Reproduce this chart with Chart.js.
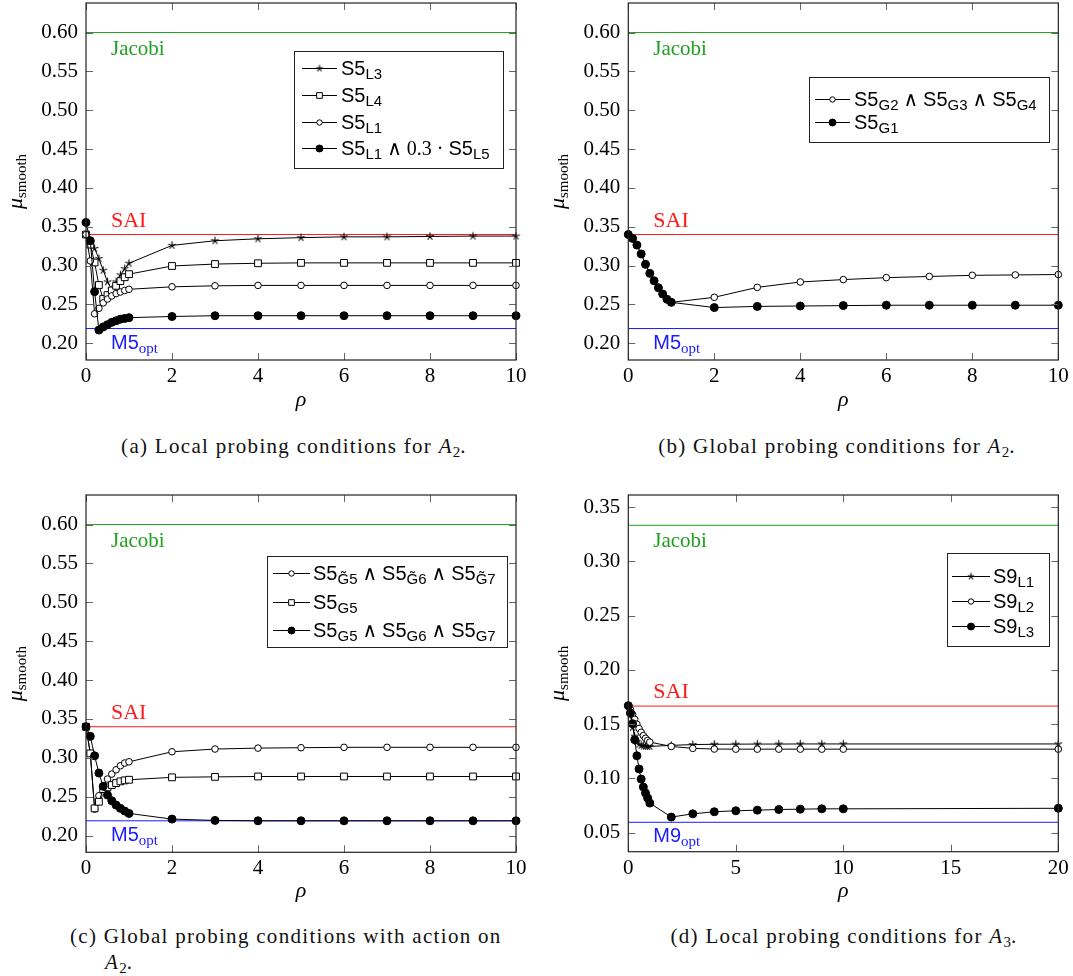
<!DOCTYPE html>
<html lang="en">
<head>
<meta charset="UTF-8">
<title>Smoothing factors of probing conditions</title>
<script src="https://cdn.jsdelivr.net/npm/chart.js@4"></script>
<style>
  html, body { margin: 0; padding: 0; background: #fff; }
  body { position: relative; width: 1073px; height: 976px; overflow: hidden; }
  .panel { position: absolute; }
  .cap {
    position: absolute; font-family: "Liberation Serif", serif; font-size: 21px;
    letter-spacing: 1.3px; color: #111; white-space: nowrap; line-height: 26px;
  }
  .cap sub { font-size: 15px; vertical-align: -4px; line-height: 0; letter-spacing: 0; }
</style>
</head>
<body>

<div class="panel" style="left:0;top:0"><canvas id="pa" width="536" height="420"></canvas></div>
<div class="panel" style="left:540px;top:0"><canvas id="pb" width="533" height="420"></canvas></div>
<div class="panel" style="left:0;top:480px"><canvas id="pc" width="536" height="430"></canvas></div>
<div class="panel" style="left:540px;top:480px"><canvas id="pd" width="533" height="430"></canvas></div>

<div class="cap" style="left:94px;top:433px;width:400px;text-align:center">(a) Local probing conditions for <i>A</i><sub>2</sub>.</div>
<div class="cap" style="left:637px;top:433px;width:400px;text-align:center">(b) Global probing conditions for <i>A</i><sub>2</sub>.</div>
<div class="cap" style="left:70px;top:923px">(c) Global probing conditions with action on<br><span style="padding-left:35px"><i>A</i><sub>2</sub>.</span></div>
<div class="cap" style="left:644px;top:923px;width:400px;text-align:center">(d) Local probing conditions for <i>A</i><sub>3</sub>.</div>

<script>
// sample points in rho
const rho10 = [0, 0.1, 0.2, 0.3, 0.4, 0.5, 0.6, 0.7, 0.8, 0.9, 1, 2, 3, 4, 5, 6, 7, 8, 9, 10];
const rho20 = [0, 0.1, 0.2, 0.3, 0.4, 0.5, 0.6, 0.7, 0.8, 0.9, 1, 2, 3, 4, 5, 6, 7, 8, 9, 10, 20];

// (a) local probing, A2
const aL3   = [0.340, 0.331, 0.322, 0.309, 0.294, 0.279, 0.269, 0.279, 0.288, 0.296, 0.303, 0.326, 0.332, 0.3345, 0.336, 0.337, 0.337, 0.3375, 0.338, 0.338];
const aL4   = [0.340, 0.327, 0.304, 0.275, 0.257, 0.262, 0.268, 0.274, 0.280, 0.285, 0.289, 0.2995, 0.302, 0.303, 0.3035, 0.3035, 0.3035, 0.3035, 0.3035, 0.3035];
const aL1   = [0.340, 0.306, 0.238, 0.245, 0.252, 0.257, 0.261, 0.264, 0.266, 0.268, 0.2695, 0.2727, 0.274, 0.2745, 0.2745, 0.2745, 0.2745, 0.2745, 0.2745, 0.2745];
const aL1L5 = [0.3555, 0.332, 0.2665, 0.217, 0.221, 0.224, 0.227, 0.229, 0.231, 0.232, 0.233, 0.2345, 0.2355, 0.2355, 0.2355, 0.2355, 0.2355, 0.2355, 0.2355, 0.2355];

// (b) global probing, A2
const bG234 = [0.340, 0.335, 0.3264, 0.315, 0.3016, 0.290, 0.2805, 0.2715, 0.2634, 0.2566, 0.2527, 0.2592, 0.272, 0.2789, 0.282, 0.2845, 0.286, 0.2875, 0.288, 0.2885];
const bG1   = [0.340, 0.335, 0.3264, 0.315, 0.3016, 0.290, 0.2805, 0.2715, 0.2634, 0.2566, 0.2527, 0.246, 0.2475, 0.248, 0.2485, 0.249, 0.249, 0.249, 0.249, 0.249];

// (c) global probing with action, A2
const cTG   = [0.340, 0.3057, 0.2341, 0.2512, 0.264, 0.2727, 0.2791, 0.2846, 0.2898, 0.2933, 0.2949, 0.3078, 0.3113, 0.3125, 0.313, 0.3135, 0.3135, 0.3135, 0.3135, 0.3135];
const cG5   = [0.340, 0.3057, 0.235, 0.2435, 0.2598, 0.262, 0.265, 0.2675, 0.2697, 0.271, 0.2718, 0.2749, 0.2755, 0.276, 0.276, 0.276, 0.276, 0.276, 0.276, 0.276];
const cG567 = [0.340, 0.3276, 0.3026, 0.2804, 0.2633, 0.2521, 0.2448, 0.2392, 0.235, 0.2315, 0.2285, 0.2212, 0.2195, 0.219, 0.219, 0.219, 0.219, 0.219, 0.219, 0.219];

// (d) local probing, A3
const dL1 = [0.1671, 0.158, 0.147, 0.139, 0.134, 0.1315, 0.1305, 0.130, 0.1297, 0.1295, 0.1295, 0.1305, 0.1312, 0.1315, 0.1316, 0.1317, 0.1317, 0.1318, 0.1318, 0.1318, 0.1318];
const dL2 = [0.1671, 0.1635, 0.159, 0.1545, 0.150, 0.146, 0.1425, 0.1395, 0.137, 0.135, 0.1335, 0.1295, 0.1277, 0.1271, 0.127, 0.127, 0.127, 0.127, 0.127, 0.127, 0.127];
const dL3 = [0.1671, 0.1603, 0.1505, 0.1357, 0.1209, 0.1087, 0.0994, 0.0921, 0.0865, 0.0819, 0.0773, 0.0644, 0.0674, 0.0693, 0.0702, 0.0708, 0.0714, 0.0717, 0.072, 0.072, 0.0725];

// reference smoothing factors: Jacobi, SAI, optimal stencil
const refA2 = [0.6, 0.34, 0.219];
const refA3 = [0.3333, 0.1667, 0.0596];

const SERIF = '"Liberation Serif", "DejaVu Serif", serif';
const SANS = '"Liberation Sans", "DejaVu Sans", sans-serif';
const GREEN = '#1f9f1f', RED = '#ff1a1a', BLUE = '#1a1aff';

// five-armed star mark
function starMark(r) {
  const c = document.createElement('canvas');
  const s = Math.ceil(2 * r + 3);
  c.width = c.height = s;
  const g = c.getContext('2d');
  g.strokeStyle = '#000';
  g.lineWidth = 1.1;
  g.beginPath();
  for (let k = 0; k < 5; k++) {
    const t = -Math.PI / 2 + k * 2 * Math.PI / 5;
    g.moveTo(s / 2, s / 2);
    g.lineTo(s / 2 + r * Math.cos(t), s / 2 + r * Math.sin(t));
  }
  g.stroke();
  return c;
}

const MK = {
  star:   { pointStyle: starMark(4), radius: 4, fill: '#000' },
  square: { pointStyle: 'rect', radius: 4.8, fill: '#fff' },
  ring:   { pointStyle: 'circle', radius: 3.3, fill: '#fff' },
  dot:    { pointStyle: 'circle', radius: 4, fill: '#000' }
};
const MKL = {
  star:   { pointStyle: starMark(3.4), radius: 3.4, fill: '#000' },
  square: { pointStyle: 'rect', radius: 4, fill: '#fff' },
  ring:   { pointStyle: 'circle', radius: 2.7, fill: '#fff' },
  dot:    { pointStyle: 'circle', radius: 3.5, fill: '#000' }
};

// rich text pieces
const sf = t => ({ t, f: '20px ' + SANS });
const sb = t => ({ t, f: '15px ' + SANS, dy: 4 });
const mf = t => ({ t, f: '20px ' + SERIF });
const S = (n, sub) => [sf(n), sb(sub)];
const AND = mf(' \u2227 ');

function drawRich(ctx, x, y, parts) {
  for (const p of parts) {
    ctx.font = p.f;
    ctx.fillStyle = p.c || '#000';
    ctx.fillText(p.t, x, y + (p.dy || 0));
    x += ctx.measureText(p.t).width;
  }
  return x;
}
function richWidth(ctx, parts) {
  let w = 0;
  for (const p of parts) { ctx.font = p.f; w += ctx.measureText(p.t).width; }
  return w;
}

const deco = {
  id: 'deco',
  afterDraw(chart, args, o) {
    const ctx = chart.ctx, a = chart.chartArea;
    const xs = chart.scales.x, ys = chart.scales.y;
    ctx.save();
    ctx.textBaseline = 'alphabetic';
    ctx.textAlign = 'left';

    // inward tick marks on all four sides
    ctx.strokeStyle = '#666';
    ctx.lineWidth = 1;
    ctx.beginPath();
    xs.ticks.forEach(t => {
      const px = Math.round(xs.getPixelForValue(t.value)) + 0.5;
      ctx.moveTo(px, a.bottom); ctx.lineTo(px, a.bottom - 7);
      ctx.moveTo(px, a.top); ctx.lineTo(px, a.top + 7);
    });
    ys.ticks.forEach(t => {
      const py = Math.round(ys.getPixelForValue(t.value)) + 0.5;
      ctx.moveTo(a.left, py); ctx.lineTo(a.left + 7, py);
      ctx.moveTo(a.right, py); ctx.lineTo(a.right - 7, py);
    });
    ctx.stroke();

    // frame
    ctx.strokeStyle = '#222';
    ctx.lineWidth = 1.2;
    ctx.strokeRect(a.left, a.top, a.right - a.left, a.bottom - a.top);

    // names of the reference lines
    const [jac, sai, opt] = o.refs;
    const lx = a.left + 25;
    drawRich(ctx, lx, ys.getPixelForValue(jac) + 22, [{ t: 'Jacobi', f: '21px ' + SERIF, c: GREEN }]);
    drawRich(ctx, lx, ys.getPixelForValue(sai) - 8, [{ t: 'SAI', f: '22px ' + SERIF, c: RED }]);
    drawRich(ctx, lx, ys.getPixelForValue(opt) + 20, [
      { t: o.optName, f: '20px ' + SANS, c: BLUE },
      { t: 'opt', f: '15px ' + SERIF, c: BLUE, dy: 4 }
    ]);

    // legend
    const L = o.legend;
    ctx.fillStyle = '#fff';
    ctx.fillRect(L.box[0], L.box[1], L.box[2] - L.box[0], L.box[3] - L.box[1]);
    ctx.strokeStyle = '#222';
    ctx.lineWidth = 1;
    ctx.strokeRect(L.box[0] + 0.5, L.box[1] + 0.5, L.box[2] - L.box[0], L.box[3] - L.box[1]);
    L.rows.forEach((ry, i) => {
      const e = o.entries[i];
      ctx.strokeStyle = '#000';
      ctx.lineWidth = 1;
      ctx.beginPath();
      ctx.moveTo(L.line[0], ry + 0.5);
      ctx.lineTo(L.line[1], ry + 0.5);
      ctx.stroke();
      const m = MKL[e.mk];
      ctx.fillStyle = m.fill;
      ctx.strokeStyle = '#000';
      Chart.helpers.drawPoint(ctx, { pointStyle: m.pointStyle, radius: m.radius, borderWidth: 1, rotation: 0 },
        (L.line[0] + L.line[1]) / 2, ry + 0.5);
      drawRich(ctx, L.text, ry + 7, e.parts);
    });

    // axis titles
    ctx.fillStyle = '#000';
    ctx.font = 'italic 22px ' + SERIF;
    ctx.textAlign = 'center';
    ctx.fillText('\u03c1', (a.left + a.right) / 2, o.rhoY);
    ctx.textAlign = 'left';
    const mu = [{ t: '\u03bc', f: 'italic 22px ' + SERIF }, { t: 'smooth', f: '15px ' + SERIF, dy: 4 }];
    ctx.translate(a.left - 64, (a.top + a.bottom) / 2);
    ctx.rotate(-Math.PI / 2);
    drawRich(ctx, -richWidth(ctx, mu) / 2, 0, mu);
    ctx.restore();
  }
};

function plot(id, o) {
  const datasets = [];
  const refColors = [GREEN, RED, BLUE];
  o.refs.forEach((v, i) => datasets.push({
    data: [{ x: o.xmin, y: v }, { x: o.xmax, y: v }],
    borderColor: refColors[i], borderWidth: 1, pointRadius: 0, order: 100
  }));
  o.entries.forEach((s, i) => {
    const m = MK[s.mk];
    datasets.push({
      data: s.x.map((x, k) => ({ x, y: s.y[k] })),
      borderColor: '#000', borderWidth: 1, tension: 0, clip: false,
      pointStyle: m.pointStyle, pointRadius: m.radius,
      pointBackgroundColor: m.fill, pointBorderColor: '#000', pointBorderWidth: 1,
      order: o.entries.length - i
    });
  });
  const tickFont = { family: SERIF, size: 21 };
  return new Chart(document.getElementById(id), {
    type: 'line',
    data: { datasets },
    plugins: [deco],
    options: {
      responsive: false, animation: false, devicePixelRatio: 1, events: [],
      layout: { autoPadding: false, padding: { top: o.top, right: o.right, left: 0, bottom: 0 } },
      plugins: { legend: { display: false }, tooltip: { enabled: false }, deco: o },
      scales: {
        x: {
          type: 'linear', min: o.xmin, max: o.xmax,
          grid: { display: false, drawTicks: false }, border: { display: false },
          ticks: { stepSize: o.xstep, font: tickFont, color: '#000', padding: 4, maxRotation: 0, autoSkip: false,
                   callback: v => String(v) },
          afterFit: s => { s.height = o.xh; s.paddingLeft = 0; s.paddingRight = 0; }
        },
        y: {
          type: 'linear', min: o.ymin, max: o.ymax,
          grid: { display: false, drawTicks: false }, border: { display: false },
          ticks: { stepSize: 0.05, includeBounds: false, font: tickFont, color: '#000', padding: 8, autoSkip: false,
                   callback: v => v.toFixed(2) },
          afterFit: s => { s.width = o.yw; s.paddingTop = 0; s.paddingBottom = 0; }
        }
      }
    }
  });
}

plot('pa', {
  xmin: 0, xmax: 10, xstep: 2, ymin: 0.1785, ymax: 0.638,
  yw: 86, top: 3, right: 20, xh: 60, rhoY: 406,
  refs: refA2, optName: 'M5',
  entries: [
    { x: rho10, y: aL3, mk: 'star', parts: S('S5', 'L3') },
    { x: rho10, y: aL4, mk: 'square', parts: S('S5', 'L4') },
    { x: rho10, y: aL1, mk: 'ring', parts: S('S5', 'L1') },
    { x: rho10, y: aL1L5, mk: 'dot', parts: [...S('S5', 'L1'), mf(' \u2227 0.3 \u00b7 '), ...S('S5', 'L5')] }
  ],
  legend: { box: [294, 51, 503, 168], rows: [68, 95, 122, 148], line: [302, 337], text: 341 }
});

plot('pb', {
  xmin: 0, xmax: 10, xstep: 2, ymin: 0.1785, ymax: 0.638,
  yw: 88.3, top: 3, right: 14.7, xh: 60, rhoY: 406,
  refs: refA2, optName: 'M5',
  entries: [
    { x: rho10, y: bG234, mk: 'ring', parts: [...S('S5', 'G2'), AND, ...S('S5', 'G3'), AND, ...S('S5', 'G4')] },
    { x: rho10, y: bG1, mk: 'dot', parts: S('S5', 'G1') }
  ],
  legend: { box: [269, 77, 509, 142], rows: [99, 122], line: [275, 310], text: 314 }
});

plot('pc', {
  xmin: 0, xmax: 10, xstep: 2, ymin: 0.1785, ymax: 0.638,
  yw: 86, top: 15, right: 20, xh: 57.7, rhoY: 417,
  refs: refA2, optName: 'M5',
  entries: [
    { x: rho10, y: cTG, mk: 'ring', parts: [...S('S5', 'G\u03035'), AND, ...S('S5', 'G\u03036'), AND, ...S('S5', 'G\u03037')] },
    { x: rho10, y: cG5, mk: 'square', parts: S('S5', 'G5') },
    { x: rho10, y: cG567, mk: 'dot', parts: [...S('S5', 'G5'), AND, ...S('S5', 'G6'), AND, ...S('S5', 'G7')] }
  ],
  legend: { box: [267, 76, 507, 167], rows: [93, 122, 150], line: [273, 310], text: 313 }
});

plot('pd', {
  xmin: 0, xmax: 20, xstep: 5, ymin: 0.0325, ymax: 0.3612,
  yw: 88.3, top: 15, right: 14.7, xh: 58.3, rhoY: 417,
  refs: refA3, optName: 'M9',
  entries: [
    { x: rho20, y: dL1, mk: 'star', parts: S('S9', 'L1') },
    { x: rho20, y: dL2, mk: 'ring', parts: S('S9', 'L2') },
    { x: rho20, y: dL3, mk: 'dot', parts: S('S9', 'L3') }
  ],
  legend: { box: [407, 73, 509, 166], rows: [96, 121, 146], line: [412, 450], text: 453 }
});
</script>
</body>
</html>
